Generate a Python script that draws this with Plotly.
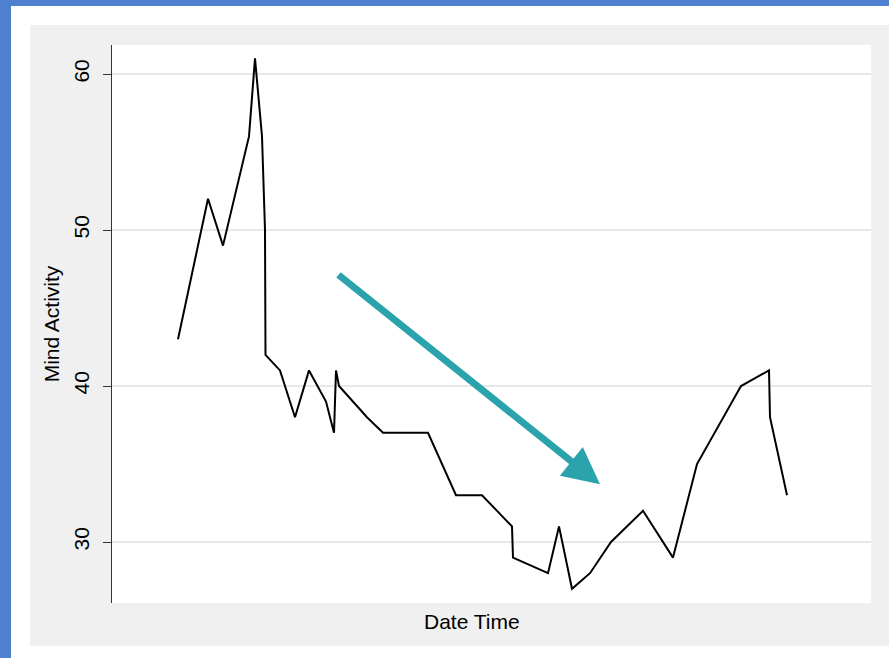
import plotly.graph_objects as go

# ---- data ----
date_time = [
    "2021-03-01 00:00", "2021-03-02 06:00", "2021-03-02 21:00", "2021-03-03 23:00",
    "2021-03-04 05:00", "2021-03-04 12:00", "2021-03-04 15:00", "2021-03-04 15:30",
    "2021-03-05 06:00", "2021-03-05 21:00", "2021-03-06 11:00", "2021-03-07 04:00",
    "2021-03-07 12:00", "2021-03-07 14:00", "2021-03-07 17:00", "2021-03-08 21:00",
    "2021-03-09 13:00", "2021-03-11 10:00", "2021-03-12 14:00", "2021-03-13 16:00",
    "2021-03-14 22:00", "2021-03-14 23:00", "2021-03-16 10:00", "2021-03-16 21:00",
    "2021-03-17 10:00", "2021-03-18 04:00", "2021-03-19 01:00", "2021-03-20 09:00",
    "2021-03-21 15:00", "2021-03-22 15:00", "2021-03-24 11:00", "2021-03-25 15:00",
    "2021-03-25 16:00", "2021-03-26 09:00",
]
mind_activity = [
    43, 52, 49, 56, 61, 56, 50, 42, 41, 38, 41, 39, 37, 41, 40, 38, 37, 37,
    33, 33, 31, 29, 28, 31, 27, 28, 30, 32, 29, 35, 40, 41, 38, 33,
]
y_ticks = [30, 40, 50, 60]
x_range = ["2021-02-26 06:00", "2021-03-29 21:00"]
y_range = [26.09, 61.86]
arrow_start = ("2021-03-07 15:00", 47.2)
arrow_end = ("2021-03-18 14:00", 33.7)
x_title = "Date Time"
y_title = "Mind Activity"

# ---- figure geometry ----
W, H = 889, 658
L, R, T, B = 112, 871, 45, 603  # plot area in pixels


def px2paper_x(px):
    return (px - L) / (R - L)


def px2paper_y(py):
    return (B - py) / (B - T)


BLUE = "#4f7fcf"
GRAY = "#f0f0f0"

fig = go.Figure()
fig.add_trace(go.Scatter(
    x=date_time, y=mind_activity, mode="lines",
    line=dict(color="black", width=2), showlegend=False,
))

shapes = []


def rect(x0, y0, x1, y1, color):
    shapes.append(dict(
        type="rect", xref="paper", yref="paper", layer="below",
        x0=px2paper_x(x0), x1=px2paper_x(x1),
        y0=px2paper_y(y0), y1=px2paper_y(y1),
        fillcolor=color, line=dict(width=0),
    ))


# white frame around grey panel
rect(0, 0, 30, H, "white")
rect(0, 0, W, 25, "white")
rect(0, 646, W, H, "white")
# blue window frame
rect(0, 0, W, 6, BLUE)
rect(0, 0, 11, H, BLUE)

fig.update_layout(
    width=W, height=H,
    margin=dict(l=L, r=W - R, t=T, b=H - B),
    paper_bgcolor=GRAY, plot_bgcolor="white",
    font=dict(family="Liberation Sans, Arial, sans-serif", size=21, color="black"),
    shapes=shapes,
    xaxis=dict(
        range=x_range, showticklabels=False, showgrid=False, zeroline=False,
        showline=False, ticks="",
    ),
    yaxis=dict(
        range=y_range, tickvals=y_ticks, ticktext=[str(v) for v in y_ticks],
        tickangle=-90, ticks="outside", ticklen=8, tickwidth=1.2, tickcolor="#333",
        ticklabelstandoff=5,
        showline=True, linecolor="#333", linewidth=1.3,
        showgrid=True, gridcolor="#e8e8e8", gridwidth=1.5, zeroline=False,
        title=dict(text=y_title, standoff=5, font=dict(size=21)),
        tickfont=dict(size=21),
    ),
    annotations=[
        dict(
            x=arrow_end[0], y=arrow_end[1], xref="x", yref="y",
            ax=arrow_start[0], ay=arrow_start[1], axref="x", ayref="y",
            text="", showarrow=True, arrowhead=2, arrowsize=1.05,
            arrowwidth=7, arrowcolor="#2ba3ac",
        ),
        dict(
            text=x_title, showarrow=False, xref="paper", yref="paper",
            x=px2paper_x(472), y=px2paper_y(621),
            xanchor="center", yanchor="middle", font=dict(size=21),
        ),
    ],
)

fig.write_html(
    "out.html",
    config={"displayModeBar": False},
    post_script="document.body.style.margin='0';document.body.style.padding='0';",
)
